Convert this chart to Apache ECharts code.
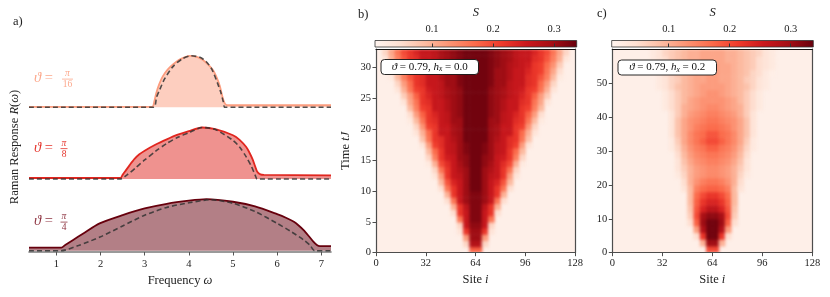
<!DOCTYPE html>
<html><head><meta charset="utf-8">
<script src="https://cdn.jsdelivr.net/npm/echarts@6/dist/echarts.min.js"></script>
<style>html,body{margin:0;padding:0;background:#fff}#c{width:830px;height:297px}</style>
</head><body><div id="c"></div>
<script>
// ---------- Panel a data: Raman response curves (normalised) ----------
const omegaSolid16 = [0.38, 3.17, 3.22, 3.26, 3.33, 3.41, 3.52, 3.64, 3.8, 4.02, 4.18, 4.32, 4.45, 4.55, 4.62, 4.7, 4.76, 4.8, 4.84, 4.9, 7.22];
const rSolid16     = [0.01, 0.01, 0.12, 0.27, 0.45, 0.6, 0.73, 0.83, 0.93, 1.0, 0.98, 0.92, 0.82, 0.72, 0.6, 0.42, 0.21, 0.1, 0.05, 0.04, 0.04];
const omegaDash16  = [0.38, 3.2, 3.27, 3.34, 3.45, 3.64, 3.85, 4.06, 4.25, 4.39, 4.52, 4.65, 4.72, 4.78, 4.82, 7.22];
const rDash16      = [0, 0, 0.2, 0.34, 0.55, 0.79, 0.94, 1.0, 0.97, 0.89, 0.74, 0.47, 0.3, 0.11, 0, 0];

const omegaSolid8 = [0.38, 2.45, 2.5, 2.55, 2.66, 2.77, 2.88, 3.0, 3.25, 3.5, 3.75, 4.0, 4.3, 4.6, 5.0, 5.15, 5.3, 5.38, 5.45, 5.5, 5.55, 5.62, 5.7, 7.22];
const rSolid8     = [0.02, 0.02, 0.08, 0.14, 0.27, 0.39, 0.48, 0.55, 0.67, 0.77, 0.86, 0.93, 1.0, 0.97, 0.85, 0.76, 0.62, 0.5, 0.37, 0.25, 0.14, 0.09, 0.08, 0.07];
const omegaDash8  = [0.38, 2.45, 2.6, 2.8, 3.0, 3.25, 3.5, 3.75, 4.0, 4.3, 4.6, 5.0, 5.15, 5.3, 5.42, 5.5, 5.55, 7.22];
const rDash8      = [0, 0, 0.08, 0.22, 0.37, 0.54, 0.69, 0.81, 0.9, 1.0, 0.96, 0.75, 0.62, 0.43, 0.24, 0.08, 0, 0];

const omegaSolid4 = [0.38, 1.11, 1.2, 1.38, 1.6, 1.98, 2.5, 3.0, 3.5, 4.0, 4.4, 5.0, 5.5, 6.0, 6.2, 6.38, 6.5, 6.6, 6.72, 6.82, 6.9, 6.97, 7.22];
const rSolid4     = [0.06, 0.06, 0.11, 0.21, 0.33, 0.53, 0.69, 0.82, 0.91, 0.97, 1.0, 0.95, 0.86, 0.71, 0.64, 0.56, 0.48, 0.40, 0.28, 0.175, 0.11, 0.09, 0.09];
const omegaDash4  = [0.38, 1.1, 1.5, 2.0, 2.5, 3.0, 3.5, 4.0, 4.5, 5.0, 5.5, 6.0, 6.3, 6.6, 6.75, 6.85, 7.22];
const rDash4      = [0, 0, 0.1, 0.27, 0.48, 0.69, 0.84, 0.93, 0.99, 0.92, 0.76, 0.53, 0.38, 0.21, 0.1, 0, 0];

const freqTicks = [1, 2, 3, 4, 5, 6, 7];
const cbarTicks = [0.1, 0.2, 0.3];

// ---------- Panel b data: S x 100, cells 4 sites wide x 1 time unit tall (row k covers t=k..k+1) ----------
const bRowStartSite = [60,56,56,52,52,52,48,48,44,44,40,40,36,36,32,32,32,28,28,24,24,20,20,20,16,16,12,12,8,8,8,4,4];
const bRowValues = [
  [18,18],
  [6,28,28,6],
  [12,30,30,12],
  [4,22,30,30,22,4],
  [6,26,31,31,26,6],
  [16,26,32,32,26,16],
  [5,22,26,32,32,26,22,5],
  [10,22,27,32,32,27,22,10],
  [5,16,26,30,32,32,30,26,16,5],
  [10,22,26,30,32,32,30,26,22,10],
  [5,16,22,26,30,33,33,30,26,22,16,5],
  [9,19,24,26,30,33,33,30,26,24,19,9],
  [4,12,22,26,27,30,33,33,30,27,26,22,12,4],
  [6,16,22,26,28,30,33,33,30,28,26,22,16,6],
  [3,10,20,23,26,29,31,33,33,31,29,26,23,20,10,3],
  [6,15,22,25,26,30,31,33,33,31,30,26,25,22,15,6],
  [9,17,22,26,27,30,32,33,33,32,30,27,26,22,17,9],
  [4,12,21,23,26,27,30,32,33,33,32,30,27,26,23,21,12,4],
  [8,16,22,23,26,28,30,33,33,33,33,30,28,26,23,22,16,8],
  [4,10,17,22,26,26,29,30,33,33,33,33,30,29,26,26,22,17,10,4],
  [6,13,21,22,26,26,29,30,33,33,33,33,30,29,26,26,22,21,13,6],
  [3,9,16,22,23,26,27,30,30,33,33,33,33,30,30,27,26,23,22,16,9,3],
  [5,12,18,22,24,26,27,30,31,33,33,33,33,31,30,27,26,24,22,18,12,5],
  [9,15,21,22,26,26,28,30,31,33,33,33,33,31,30,28,26,26,22,21,15,9],
  [4,11,16,22,23,26,26,28,30,31,33,33,33,33,31,30,28,26,26,23,22,16,11,4],
  [7,12,18,22,24,26,27,29,30,31,33,33,33,33,31,30,29,27,26,24,22,18,12,7],
  [4,10,16,21,22,25,26,27,29,30,31,33,33,33,33,31,30,29,27,26,25,22,21,16,10,4],
  [6,12,17,22,23,26,26,27,30,30,32,33,33,33,33,32,30,30,27,26,26,23,22,17,12,6],
  [3,9,15,19,22,23,26,26,28,30,30,32,33,33,33,33,32,30,30,28,26,26,23,22,19,15,9,3],
  [5,11,16,21,22,24,26,26,28,30,30,32,33,33,33,33,32,30,30,28,26,26,24,22,21,16,11,5],
  [7,13,17,21,22,25,26,27,28,30,31,32,33,33,33,33,32,31,30,28,27,26,25,22,21,17,13,7],
  [4,10,15,19,22,23,26,26,27,29,30,31,32,33,33,33,33,32,31,30,29,27,26,26,23,22,19,15,10,4],
  [6,11,16,20,22,24,26,26,27,29,30,31,32,33,33,33,33,32,31,30,29,27,26,26,24,22,20,16,11,6]
];

// ---------- Panel c data: S x 100, cells 4 sites wide x 2 time units tall (row k covers t=2k..2k+2) ----------
const cRowStartSite = [60,56,52,52,48,48,48,48,48,44,44,40,40,40,40,36,36,36,36,36,36,32,32,32,28,28,24,24,24,24];
const cRowValues = [
  [20,20],
  [10,30,30,10],
  [5,22,33,33,22,5],
  [12,28,33,33,28,12],
  [5,18,30,33,33,30,18,5],
  [7,20,29,31,31,29,20,7],
  [8,19,24,27,27,24,19,8],
  [9,18,22,24,24,22,18,9],
  [9,17,20,22,22,20,17,9],
  [4,9,15,17,18,18,17,15,9,4],
  [5,10,13,15,16,16,15,13,10,5],
  [3,6,10,12,13,14,14,13,12,10,6,3],
  [4,7,10,12,13,14,14,13,12,10,7,4],
  [4,8,11,13,14,15,15,14,13,11,8,4],
  [5,9,12,14,15,16,16,15,14,12,9,5],
  [3,6,10,13,15,16,18,18,16,15,13,10,6,3],
  [3,7,11,14,16,18,20,20,18,16,14,11,7,3],
  [4,8,11,14,16,17,19,19,17,16,14,11,8,4],
  [4,8,11,13,15,16,17,17,16,15,13,11,8,4],
  [4,8,11,13,14,15,16,16,15,14,13,11,8,4],
  [4,7,10,12,13,14,15,15,14,13,12,10,7,4],
  [3,5,7,10,11,12,13,14,14,13,12,11,10,7,5,3],
  [3,5,7,9,11,12,13,13,13,13,12,11,9,7,5,3],
  [3,5,7,9,10,11,12,13,13,12,11,10,9,7,5,3],
  [3,4,6,8,9,10,11,12,12,12,12,11,10,9,8,6,4,3],
  [3,4,6,7,9,10,11,11,12,12,11,11,10,9,7,6,4,3],
  [2,3,5,6,8,9,10,11,11,12,12,11,11,10,9,8,6,5,3,2],
  [3,4,5,7,8,9,10,11,11,12,12,11,11,10,9,8,7,5,4,3],
  [3,4,5,7,8,9,10,10,11,11,11,11,10,10,9,8,7,5,4,3],
  [3,4,6,7,8,9,10,10,11,11,11,11,10,10,9,8,7,6,4,3]
];

// ---------- build ----------
const F = "'Liberation Serif','DejaVu Serif',serif";
const REDS = ['#fff5f0','#fee0d2','#fcbba1','#fc9272','#fb6a4a','#ef3b2c','#cb181d','#a50f15','#67000d'];
const zip = (xs, ys) => xs.map((x, i) => [x, ys[i]]);
function cells(starts, rows, dSite, dT) {
  const out = [];
  rows.forEach((row, k) => row.forEach((v, j) => out.push([starts[k] + j * dSite, k * dT, v])));
  return out;
}
function cellRenderer(dx, dy) {
  return function (params, api) {
    const x = api.value(0), y = api.value(1);
    const a = api.coord([x, y + dy]);
    const b = api.coord([x + dx, y]);
    return { type: 'rect', shape: { x: a[0], y: a[1], width: b[0] - a[0] + 0.6, height: b[1] - a[1] + 0.6 },
             style: { fill: api.visual('color') } };
  };
}
const chart = echarts.init(document.getElementById('c'), null, { renderer: 'canvas' });
const txt = { fontFamily: F, color: '#222' };
const rich = { n: { fontFamily: F, fontSize: 12.5, color: '#222' }, i: { fontFamily: F, fontSize: 12.5, fontStyle: 'italic', color: '#222' } };
const frameCol = '#4d4d4d';
const TOP = 2; // zlevel for frames/annotations above the heat layer

const aBase = { left: 29, width: 302, height: 55.4 };
const grids = [
  Object.assign({ top: 53.2 }, aBase),
  Object.assign({ top: 124.9 }, aBase),
  Object.assign({ top: 196.6 }, aBase),
  { left: 376, width: 199, top: 49, height: 203.7, show: true, backgroundColor: '#feefe8', borderWidth: 0 },
  { left: 375, width: 201.7, top: 40.5, height: 6.5, show: true, borderColor: '#333', borderWidth: 0.8,
    backgroundColor: new echarts.graphic.LinearGradient(0, 0, 1, 0, REDS.map((c, i) => ({ offset: i / 8, color: c }))) },
  { left: 612.3, width: 200, top: 49, height: 203.7, show: true, backgroundColor: '#feefe8', borderWidth: 0 },
  { left: 611.7, width: 201.6, top: 40.5, height: 6.5, show: true, borderColor: '#333', borderWidth: 0.8,
    backgroundColor: new echarts.graphic.LinearGradient(0, 0, 1, 0, REDS.map((c, i) => ({ offset: i / 8, color: c }))) }
];

const hiddenX = gi => ({ type: 'value', gridIndex: gi, min: 0.38, max: 7.22, show: false });
const hiddenY = gi => ({ type: 'value', gridIndex: gi, min: -0.025, max: 1.05, show: false });
const lineOnly = (gi, pos, min, max) => ({ type: 'value', gridIndex: gi, position: pos, min, max, zlevel: TOP, z: 10,
  axisLine: { show: true, onZero: false, lineStyle: { color: pos === 'top' ? '#111' : frameCol, width: 1.2 } },
  axisTick: { show: false }, axisLabel: { show: false }, splitLine: { show: false } });
const siteAxis = gi => ({ type: 'value', gridIndex: gi, position: 'bottom', min: 0, max: 128, interval: 32, zlevel: TOP, z: 10,
  axisLine: { show: true, onZero: false, lineStyle: { color: frameCol, width: 1.2 } },
  axisTick: { show: true, length: 3.5, lineStyle: { color: frameCol, width: 1 } },
  axisLabel: Object.assign({ fontSize: 10.5, margin: 5 }, txt), splitLine: { show: false },
  name: '{n|Site }{i|i}', nameLocation: 'middle', nameGap: 20, nameTextStyle: { rich } });
const timeAxis = (gi, max, interval, name) => ({ type: 'value', gridIndex: gi, position: 'left', min: 0, max, interval, zlevel: TOP, z: 10,
  axisLine: { show: true, onZero: false, lineStyle: { color: frameCol, width: 1.2 } },
  axisTick: { show: true, length: 3.5, lineStyle: { color: frameCol, width: 1 } },
  axisLabel: Object.assign({ fontSize: 10.5, margin: 5, showMaxLabel: false }, txt), splitLine: { show: false },
  name: name || '', nameLocation: 'middle', nameGap: 24, nameRotate: 90, nameTextStyle: { rich } });
const cbarAxis = gi => ({ type: 'value', gridIndex: gi, position: 'top', min: 0.0066, max: 0.337,
  axisLine: { show: false },
  axisTick: { show: true, customValues: cbarTicks, length: 3.5, lineStyle: { color: '#333', width: 1 } },
  axisLabel: Object.assign({ customValues: cbarTicks, fontSize: 10.5, margin: 6, formatter: v => v.toFixed(1) }, txt),
  splitLine: { show: false },
  name: 'S', nameLocation: 'middle', nameGap: 21, nameTextStyle: { fontFamily: F, fontSize: 12.5, fontStyle: 'italic', color: '#222' } });

const xAxes = [
  hiddenX(0), hiddenX(1),
  { type: 'value', gridIndex: 2, min: 0.38, max: 7.22, position: 'bottom',
    axisLine: { show: true, onZero: false, lineStyle: { color: '#7a7a7a', width: 1.6 } },
    axisTick: { show: true, customValues: freqTicks, length: 3.5, lineStyle: { color: '#555', width: 1 } },
    axisLabel: Object.assign({ customValues: freqTicks, fontSize: 10.5, margin: 7 }, txt), splitLine: { show: false },
    name: '{n|Frequency }{i|ω}', nameLocation: 'middle', nameGap: 22, nameTextStyle: { rich } },
  siteAxis(3), lineOnly(3, 'top', 0, 128), cbarAxis(4),
  siteAxis(5), lineOnly(5, 'top', 0, 128), cbarAxis(6)
];
const yAxes = [
  hiddenY(0), hiddenY(1), hiddenY(2),
  timeAxis(3, 33, 5, '{n|Time }{i|tJ}'), lineOnly(3, 'right', 0, 33),
  { type: 'value', gridIndex: 4, min: 0, max: 1, show: false },
  timeAxis(5, 60, 10), lineOnly(5, 'right', 0, 60),
  { type: 'value', gridIndex: 6, min: 0, max: 1, show: false }
];

function solid(idx, xs, ys, col) {
  return { type: 'line', xAxisIndex: idx, yAxisIndex: idx, data: zip(xs, ys), symbol: 'none', smooth: 0.25,
    lineStyle: { color: col, width: 1.8 }, areaStyle: { color: col, opacity: 0.5 }, z: 2, silent: true };
}
function dashed(idx, xs, ys) {
  return { type: 'line', xAxisIndex: idx, yAxisIndex: idx, data: zip(xs, ys), symbol: 'none', smooth: 0.25,
    lineStyle: { color: '#333', width: 1.6, type: [5, 3], opacity: 0.85 }, z: 3, silent: true };
}
const col16 = '#fc9d7f', col8 = '#e0261f', col4 = '#67000d';
const series = [
  solid(0, omegaSolid16, rSolid16, col16), dashed(0, omegaDash16, rDash16),
  solid(1, omegaSolid8, rSolid8, col8), dashed(1, omegaDash8, rDash8),
  solid(2, omegaSolid4, rSolid4, col4), dashed(2, omegaDash4, rDash4),
  { type: 'custom', coordinateSystem: 'cartesian2d', xAxisIndex: 3, yAxisIndex: 3, clip: true, silent: true, zlevel: 1,
    renderItem: cellRenderer(4, 1), encode: { x: 0, y: 1 }, data: cells(bRowStartSite, bRowValues, 4, 1) },
  { type: 'custom', coordinateSystem: 'cartesian2d', xAxisIndex: 6, yAxisIndex: 6, clip: true, silent: true, zlevel: 1,
    renderItem: cellRenderer(4, 2), encode: { x: 0, y: 1 }, data: cells(cRowStartSite, cRowValues, 4, 2) }
];

function thetaLabel(y, cx, den, col, half) {
  return [
    { type: 'text', x: 34, y: y, style: { text: '{i|ϑ} =', rich: { i: { fontStyle: 'italic', fontFamily: F, fontSize: 14.5, fill: col, color: col } },
      fontFamily: F, fontSize: 14.5, fill: col, verticalAlign: 'middle', textVerticalAlign: 'middle' } },
    { type: 'text', x: cx, y: y - 4.6, style: { text: 'π', fontFamily: F, fontSize: 9.5, fontStyle: 'italic', fill: col, align: 'center', verticalAlign: 'middle', textAlign: 'center', textVerticalAlign: 'middle' } },
    { type: 'line', shape: { x1: cx - half, y1: y + 0.6, x2: cx + half, y2: y + 0.6 }, style: { stroke: col, lineWidth: 0.8 } },
    { type: 'text', x: cx, y: y + 6.2, style: { text: den, fontFamily: F, fontSize: 9.5, fill: col, align: 'center', verticalAlign: 'middle', textAlign: 'center', textVerticalAlign: 'middle' } }
  ];
}
function annot(x, y, w, h, hx) {
  return [
    { type: 'rect', zlevel: TOP, shape: { x, y, width: w, height: h, r: 3.5 }, style: { fill: '#fff', stroke: '#111', lineWidth: 0.9 }, z: 100 },
    { type: 'text', zlevel: TOP, x: x + w / 2, y: y + h / 2, z: 101, style: {
      text: '{i|ϑ}{n| = 0.79, }{i|h}{s|x}{n| = ' + hx + '}',
      rich: { n: { fontFamily: F, fontSize: 11, fill: '#111' }, i: { fontFamily: F, fontSize: 11, fontStyle: 'italic', fill: '#111' },
              s: { fontFamily: F, fontSize: 7.5, fontStyle: 'italic', fill: '#111', padding: [5, 0, 0, 0] } },
      align: 'center', verticalAlign: 'middle', textAlign: 'center', textVerticalAlign: 'middle' } }
  ];
}
const graphics = [].concat(
  [{ type: 'text', x: 13, y: 22, style: { text: 'a)', fontFamily: F, fontSize: 12.5, fill: '#222', verticalAlign: 'middle', textVerticalAlign: 'middle' } },
   { type: 'text', x: 358, y: 15, style: { text: 'b)', fontFamily: F, fontSize: 12.5, fill: '#222', verticalAlign: 'middle', textVerticalAlign: 'middle' } },
   { type: 'text', x: 597, y: 14, style: { text: 'c)', fontFamily: F, fontSize: 12.5, fill: '#222', verticalAlign: 'middle', textVerticalAlign: 'middle' } },
   { type: 'text', x: 15, y: 147, rotation: Math.PI / 2, style: { text: '{n|Raman Response }{i|R}{n|(}{i|ω}{n|)}',
      rich: { n: { fontFamily: F, fontSize: 12.5, fill: '#222' }, i: { fontFamily: F, fontSize: 12.5, fontStyle: 'italic', fill: '#222' } },
      align: 'center', verticalAlign: 'middle', textAlign: 'center', textVerticalAlign: 'middle' } }],
  thetaLabel(78.5, 67.5, '16', '#fca88c', 5.5),
  thetaLabel(148, 64, '8', '#e5342c', 3.5),
  thetaLabel(221.5, 64, '4', '#8e3340', 3.5),
  annot(381, 59.5, 97.5, 15, '0.0'),
  annot(618, 60, 98.5, 15, '0.2')
);

chart.setOption({
  animation: false,
  backgroundColor: '#fff',
  grid: grids,
  xAxis: xAxes,
  yAxis: yAxes,
  visualMap: [{ type: 'continuous', show: false, min: 0.66, max: 33.7, dimension: 2, seriesIndex: [6, 7], inRange: { color: REDS } }],
  series,
  graphic: graphics
});

// soften the cell edges of the heat layer (rendering style only), clipped to the two plot areas
(function () {
  const cvs = Array.from(document.querySelectorAll('#c canvas'));
  let layer = document.querySelector('#c canvas[data-zr-dom-id="zr_1"]');
  if (!layer && cvs.length > 1) layer = cvs[1];
  if (layer) {
    layer.style.filter = 'blur(1.8px)';
    layer.style.clipPath = "path('M376 49 H575 V252.7 H376 Z M612.3 49 H812.3 V252.7 H612.3 Z')";
  }
})();
</script></body></html>
